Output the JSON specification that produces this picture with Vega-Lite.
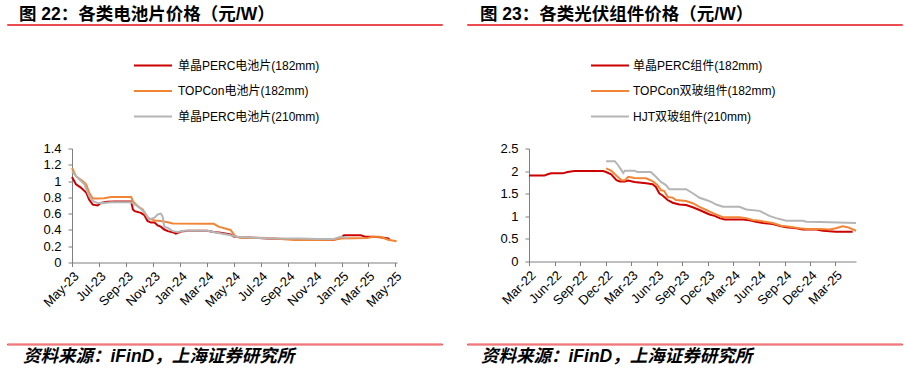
{
  "$schema": "https://vega.github.io/schema/vega-lite/v6.json",
  "padding": {"left": 6, "top": 5, "right": 0, "bottom": 0},
  "background": "white",
  "config": {
    "view": {"stroke": null},
    "font": "Liberation Sans, Noto Sans CJK SC",
    "axis": {"grid": false, "domainColor": "#7f7f7f", "tickColor": "#7f7f7f", "labelColor": "#000000", "labelFontSize": 13, "labelFont": "Liberation Sans, Noto Sans CJK SC", "tickSize": 4, "labelPadding": 3, "title": null, "labelOverlap": false},
    "text": {"font": "Liberation Sans, Noto Sans CJK SC", "fontSize": 12, "color": "#000000"},
    "title": {"font": "Liberation Sans, Noto Sans CJK SC", "color": "#000000"}
  },
  "resolve": {"scale": {"color": "independent", "x": "independent", "y": "independent"}},
  "datasets": {
    "left": [
      {"date": "2023/05/01", "value": 1.05, "series": "单晶PERC电池片(182mm)"},
      {"date": "2023/05/10", "value": 0.96, "series": "单晶PERC电池片(182mm)"},
      {"date": "2023/05/21", "value": 0.92, "series": "单晶PERC电池片(182mm)"},
      {"date": "2023/06/02", "value": 0.86, "series": "单晶PERC电池片(182mm)"},
      {"date": "2023/06/09", "value": 0.77, "series": "单晶PERC电池片(182mm)"},
      {"date": "2023/06/17", "value": 0.71, "series": "单晶PERC电池片(182mm)"},
      {"date": "2023/06/28", "value": 0.70, "series": "单晶PERC电池片(182mm)"},
      {"date": "2023/07/05", "value": 0.73, "series": "单晶PERC电池片(182mm)"},
      {"date": "2023/07/20", "value": 0.745, "series": "单晶PERC电池片(182mm)"},
      {"date": "2023/08/05", "value": 0.75, "series": "单晶PERC电池片(182mm)"},
      {"date": "2023/08/28", "value": 0.75, "series": "单晶PERC电池片(182mm)"},
      {"date": "2023/09/12", "value": 0.75, "series": "单晶PERC电池片(182mm)"},
      {"date": "2023/09/16", "value": 0.65, "series": "单晶PERC电池片(182mm)"},
      {"date": "2023/09/20", "value": 0.63, "series": "单晶PERC电池片(182mm)"},
      {"date": "2023/10/04", "value": 0.61, "series": "单晶PERC电池片(182mm)"},
      {"date": "2023/10/12", "value": 0.58, "series": "单晶PERC电池片(182mm)"},
      {"date": "2023/10/19", "value": 0.51, "series": "单晶PERC电池片(182mm)"},
      {"date": "2023/10/27", "value": 0.49, "series": "单晶PERC电池片(182mm)"},
      {"date": "2023/11/04", "value": 0.49, "series": "单晶PERC电池片(182mm)"},
      {"date": "2023/11/11", "value": 0.455, "series": "单晶PERC电池片(182mm)"},
      {"date": "2023/11/18", "value": 0.44, "series": "单晶PERC电池片(182mm)"},
      {"date": "2023/11/26", "value": 0.405, "series": "单晶PERC电池片(182mm)"},
      {"date": "2023/12/04", "value": 0.385, "series": "单晶PERC电池片(182mm)"},
      {"date": "2023/12/19", "value": 0.365, "series": "单晶PERC电池片(182mm)"},
      {"date": "2023/12/22", "value": 0.355, "series": "单晶PERC电池片(182mm)"},
      {"date": "2024/01/03", "value": 0.38, "series": "单晶PERC电池片(182mm)"},
      {"date": "2024/01/18", "value": 0.39, "series": "单晶PERC电池片(182mm)"},
      {"date": "2024/02/17", "value": 0.39, "series": "单晶PERC电池片(182mm)"},
      {"date": "2024/03/02", "value": 0.39, "series": "单晶PERC电池片(182mm)"},
      {"date": "2024/03/17", "value": 0.375, "series": "单晶PERC电池片(182mm)"},
      {"date": "2024/04/02", "value": 0.365, "series": "单晶PERC电池片(182mm)"},
      {"date": "2024/04/24", "value": 0.345, "series": "单晶PERC电池片(182mm)"},
      {"date": "2024/05/01", "value": 0.32, "series": "单晶PERC电池片(182mm)"},
      {"date": "2024/05/16", "value": 0.31, "series": "单晶PERC电池片(182mm)"},
      {"date": "2024/06/16", "value": 0.305, "series": "单晶PERC电池片(182mm)"},
      {"date": "2024/07/16", "value": 0.295, "series": "单晶PERC电池片(182mm)"},
      {"date": "2024/08/23", "value": 0.29, "series": "单晶PERC电池片(182mm)"},
      {"date": "2024/09/30", "value": 0.29, "series": "单晶PERC电池片(182mm)"},
      {"date": "2024/11/07", "value": 0.28, "series": "单晶PERC电池片(182mm)"},
      {"date": "2024/12/14", "value": 0.28, "series": "单晶PERC电池片(182mm)"},
      {"date": "2024/12/29", "value": 0.30, "series": "单晶PERC电池片(182mm)"},
      {"date": "2025/01/06", "value": 0.335, "series": "单晶PERC电池片(182mm)"},
      {"date": "2025/02/13", "value": 0.335, "series": "单晶PERC电池片(182mm)"},
      {"date": "2025/02/24", "value": 0.315, "series": "单晶PERC电池片(182mm)"},
      {"date": "2025/03/13", "value": 0.315, "series": "单晶PERC电池片(182mm)"},
      {"date": "2025/03/28", "value": 0.31, "series": "单晶PERC电池片(182mm)"},
      {"date": "2025/04/16", "value": 0.295, "series": "单晶PERC电池片(182mm)"},
      {"date": "2025/04/20", "value": 0.275, "series": "单晶PERC电池片(182mm)"},

      {"date": "2023/05/01", "value": 1.16, "series": "TOPCon电池片(182mm)"},
      {"date": "2023/05/10", "value": 1.06, "series": "TOPCon电池片(182mm)"},
      {"date": "2023/05/25", "value": 1.00, "series": "TOPCon电池片(182mm)"},
      {"date": "2023/06/02", "value": 0.96, "series": "TOPCon电池片(182mm)"},
      {"date": "2023/06/09", "value": 0.855, "series": "TOPCon电池片(182mm)"},
      {"date": "2023/06/17", "value": 0.785, "series": "TOPCon电池片(182mm)"},
      {"date": "2023/06/28", "value": 0.785, "series": "TOPCon电池片(182mm)"},
      {"date": "2023/07/13", "value": 0.79, "series": "TOPCon电池片(182mm)"},
      {"date": "2023/07/28", "value": 0.805, "series": "TOPCon电池片(182mm)"},
      {"date": "2023/09/12", "value": 0.805, "series": "TOPCon电池片(182mm)"},
      {"date": "2023/09/16", "value": 0.75, "series": "TOPCon电池片(182mm)"},
      {"date": "2023/09/27", "value": 0.69, "series": "TOPCon电池片(182mm)"},
      {"date": "2023/10/08", "value": 0.65, "series": "TOPCon电池片(182mm)"},
      {"date": "2023/10/19", "value": 0.55, "series": "TOPCon电池片(182mm)"},
      {"date": "2023/11/04", "value": 0.515, "series": "TOPCon电池片(182mm)"},
      {"date": "2023/11/18", "value": 0.51, "series": "TOPCon电池片(182mm)"},
      {"date": "2023/12/04", "value": 0.495, "series": "TOPCon电池片(182mm)"},
      {"date": "2023/12/15", "value": 0.48, "series": "TOPCon电池片(182mm)"},
      {"date": "2024/03/02", "value": 0.475, "series": "TOPCon电池片(182mm)"},
      {"date": "2024/03/17", "value": 0.475, "series": "TOPCon电池片(182mm)"},
      {"date": "2024/03/28", "value": 0.44, "series": "TOPCon电池片(182mm)"},
      {"date": "2024/04/24", "value": 0.40, "series": "TOPCon电池片(182mm)"},
      {"date": "2024/05/05", "value": 0.32, "series": "TOPCon电池片(182mm)"},
      {"date": "2024/05/16", "value": 0.305, "series": "TOPCon电池片(182mm)"},
      {"date": "2024/07/16", "value": 0.30, "series": "TOPCon电池片(182mm)"},
      {"date": "2024/09/15", "value": 0.275, "series": "TOPCon电池片(182mm)"},
      {"date": "2024/10/30", "value": 0.275, "series": "TOPCon电池片(182mm)"},
      {"date": "2024/12/14", "value": 0.28, "series": "TOPCon电池片(182mm)"},
      {"date": "2024/12/29", "value": 0.295, "series": "TOPCon电池片(182mm)"},
      {"date": "2025/02/28", "value": 0.30, "series": "TOPCon电池片(182mm)"},
      {"date": "2025/03/13", "value": 0.315, "series": "TOPCon电池片(182mm)"},
      {"date": "2025/03/28", "value": 0.315, "series": "TOPCon电池片(182mm)"},
      {"date": "2025/04/16", "value": 0.28, "series": "TOPCon电池片(182mm)"},
      {"date": "2025/05/05", "value": 0.26, "series": "TOPCon电池片(182mm)"},

      {"date": "2023/05/01", "value": 1.12, "series": "单晶PERC电池片(210mm)"},
      {"date": "2023/05/14", "value": 1.04, "series": "单晶PERC电池片(210mm)"},
      {"date": "2023/05/29", "value": 0.96, "series": "单晶PERC电池片(210mm)"},
      {"date": "2023/06/09", "value": 0.815, "series": "单晶PERC电池片(210mm)"},
      {"date": "2023/06/17", "value": 0.755, "series": "单晶PERC电池片(210mm)"},
      {"date": "2023/06/28", "value": 0.73, "series": "单晶PERC电池片(210mm)"},
      {"date": "2023/07/13", "value": 0.73, "series": "单晶PERC电池片(210mm)"},
      {"date": "2023/07/28", "value": 0.74, "series": "单晶PERC电池片(210mm)"},
      {"date": "2023/09/12", "value": 0.74, "series": "单晶PERC电池片(210mm)"},
      {"date": "2023/09/27", "value": 0.69, "series": "单晶PERC电池片(210mm)"},
      {"date": "2023/10/12", "value": 0.62, "series": "单晶PERC电池片(210mm)"},
      {"date": "2023/10/23", "value": 0.53, "series": "单晶PERC电池片(210mm)"},
      {"date": "2023/11/04", "value": 0.55, "series": "单晶PERC电池片(210mm)"},
      {"date": "2023/11/11", "value": 0.59, "series": "单晶PERC电池片(210mm)"},
      {"date": "2023/11/18", "value": 0.60, "series": "单晶PERC电池片(210mm)"},
      {"date": "2023/11/22", "value": 0.57, "series": "单晶PERC电池片(210mm)"},
      {"date": "2023/11/26", "value": 0.44, "series": "单晶PERC电池片(210mm)"},
      {"date": "2023/12/04", "value": 0.425, "series": "单晶PERC电池片(210mm)"},
      {"date": "2023/12/15", "value": 0.385, "series": "单晶PERC电池片(210mm)"},
      {"date": "2023/12/26", "value": 0.375, "series": "单晶PERC电池片(210mm)"},
      {"date": "2024/01/10", "value": 0.39, "series": "单晶PERC电池片(210mm)"},
      {"date": "2024/03/02", "value": 0.39, "series": "单晶PERC电池片(210mm)"},
      {"date": "2024/03/25", "value": 0.365, "series": "单晶PERC电池片(210mm)"},
      {"date": "2024/04/24", "value": 0.335, "series": "单晶PERC电池片(210mm)"},
      {"date": "2024/05/09", "value": 0.315, "series": "单晶PERC电池片(210mm)"},
      {"date": "2024/06/16", "value": 0.305, "series": "单晶PERC电池片(210mm)"},
      {"date": "2024/07/31", "value": 0.295, "series": "单晶PERC电池片(210mm)"},
      {"date": "2024/09/30", "value": 0.295, "series": "单晶PERC电池片(210mm)"},
      {"date": "2024/11/07", "value": 0.29, "series": "单晶PERC电池片(210mm)"},
      {"date": "2024/12/14", "value": 0.29, "series": "单晶PERC电池片(210mm)"},
      {"date": "2024/12/29", "value": 0.315, "series": "单晶PERC电池片(210mm)"},
      {"date": "2025/01/14", "value": 0.30, "series": "单晶PERC电池片(210mm)"}
    ],
    "right": [
      {"date": "2022/03/01", "value": 1.90, "series": "单晶PERC组件(182mm)"},
      {"date": "2022/04/25", "value": 1.90, "series": "单晶PERC组件(182mm)"},
      {"date": "2022/05/07", "value": 1.93, "series": "单晶PERC组件(182mm)"},
      {"date": "2022/05/19", "value": 1.95, "series": "单晶PERC组件(182mm)"},
      {"date": "2022/06/30", "value": 1.95, "series": "单晶PERC组件(182mm)"},
      {"date": "2022/07/17", "value": 1.98, "series": "单晶PERC组件(182mm)"},
      {"date": "2022/08/11", "value": 2.00, "series": "单晶PERC组件(182mm)"},
      {"date": "2022/11/21", "value": 2.00, "series": "单晶PERC组件(182mm)"},
      {"date": "2022/12/02", "value": 1.98, "series": "单晶PERC组件(182mm)"},
      {"date": "2022/12/20", "value": 1.93, "series": "单晶PERC组件(182mm)"},
      {"date": "2023/01/08", "value": 1.80, "series": "单晶PERC组件(182mm)"},
      {"date": "2023/01/20", "value": 1.77, "series": "单晶PERC组件(182mm)"},
      {"date": "2023/02/07", "value": 1.77, "series": "单晶PERC组件(182mm)"},
      {"date": "2023/02/19", "value": 1.79, "series": "单晶PERC组件(182mm)"},
      {"date": "2023/03/13", "value": 1.76, "series": "单晶PERC组件(182mm)"},
      {"date": "2023/04/24", "value": 1.73, "series": "单晶PERC组件(182mm)"},
      {"date": "2023/05/17", "value": 1.71, "series": "单晶PERC组件(182mm)"},
      {"date": "2023/05/29", "value": 1.65, "series": "单晶PERC组件(182mm)"},
      {"date": "2023/06/10", "value": 1.51, "series": "单晶PERC组件(182mm)"},
      {"date": "2023/06/22", "value": 1.46, "series": "单晶PERC组件(182mm)"},
      {"date": "2023/07/10", "value": 1.36, "series": "单晶PERC组件(182mm)"},
      {"date": "2023/07/28", "value": 1.30, "series": "单晶PERC组件(182mm)"},
      {"date": "2023/08/21", "value": 1.26, "series": "单晶PERC组件(182mm)"},
      {"date": "2023/09/14", "value": 1.25, "series": "单晶PERC组件(182mm)"},
      {"date": "2023/10/08", "value": 1.20, "series": "单晶PERC组件(182mm)"},
      {"date": "2023/11/01", "value": 1.14, "series": "单晶PERC组件(182mm)"},
      {"date": "2023/11/19", "value": 1.09, "series": "单晶PERC组件(182mm)"},
      {"date": "2023/12/07", "value": 1.04, "series": "单晶PERC组件(182mm)"},
      {"date": "2023/12/25", "value": 1.01, "series": "单晶PERC组件(182mm)"},
      {"date": "2024/01/12", "value": 0.96, "series": "单晶PERC组件(182mm)"},
      {"date": "2024/01/30", "value": 0.93, "series": "单晶PERC组件(182mm)"},
      {"date": "2024/04/04", "value": 0.93, "series": "单晶PERC组件(182mm)"},
      {"date": "2024/04/28", "value": 0.91, "series": "单晶PERC组件(182mm)"},
      {"date": "2024/05/21", "value": 0.88, "series": "单晶PERC组件(182mm)"},
      {"date": "2024/06/15", "value": 0.85, "series": "单晶PERC组件(182mm)"},
      {"date": "2024/07/20", "value": 0.83, "series": "单晶PERC组件(182mm)"},
      {"date": "2024/08/19", "value": 0.78, "series": "单晶PERC组件(182mm)"},
      {"date": "2024/09/07", "value": 0.76, "series": "单晶PERC组件(182mm)"},
      {"date": "2024/10/12", "value": 0.735, "series": "单晶PERC组件(182mm)"},
      {"date": "2024/11/05", "value": 0.71, "series": "单晶PERC组件(182mm)"},
      {"date": "2024/12/23", "value": 0.71, "series": "单晶PERC组件(182mm)"},
      {"date": "2025/01/16", "value": 0.68, "series": "单晶PERC组件(182mm)"},
      {"date": "2025/03/03", "value": 0.66, "series": "单晶PERC组件(182mm)"},
      {"date": "2025/05/02", "value": 0.66, "series": "单晶PERC组件(182mm)"},

      {"date": "2022/12/02", "value": 2.06, "series": "TOPCon双玻组件(182mm)"},
      {"date": "2022/12/20", "value": 2.01, "series": "TOPCon双玻组件(182mm)"},
      {"date": "2023/01/08", "value": 1.90, "series": "TOPCon双玻组件(182mm)"},
      {"date": "2023/01/26", "value": 1.80, "series": "TOPCon双玻组件(182mm)"},
      {"date": "2023/02/07", "value": 1.80, "series": "TOPCon双玻组件(182mm)"},
      {"date": "2023/02/19", "value": 1.875, "series": "TOPCon双玻组件(182mm)"},
      {"date": "2023/03/13", "value": 1.85, "series": "TOPCon双玻组件(182mm)"},
      {"date": "2023/04/24", "value": 1.84, "series": "TOPCon双玻组件(182mm)"},
      {"date": "2023/05/17", "value": 1.78, "series": "TOPCon双玻组件(182mm)"},
      {"date": "2023/06/04", "value": 1.69, "series": "TOPCon双玻组件(182mm)"},
      {"date": "2023/06/16", "value": 1.58, "series": "TOPCon双玻组件(182mm)"},
      {"date": "2023/06/28", "value": 1.56, "series": "TOPCon双玻组件(182mm)"},
      {"date": "2023/07/10", "value": 1.43, "series": "TOPCon双玻组件(182mm)"},
      {"date": "2023/07/28", "value": 1.41, "series": "TOPCon双玻组件(182mm)"},
      {"date": "2023/08/09", "value": 1.36, "series": "TOPCon双玻组件(182mm)"},
      {"date": "2023/09/14", "value": 1.34, "series": "TOPCon双玻组件(182mm)"},
      {"date": "2023/10/08", "value": 1.29, "series": "TOPCon双玻组件(182mm)"},
      {"date": "2023/11/01", "value": 1.21, "series": "TOPCon双玻组件(182mm)"},
      {"date": "2023/11/25", "value": 1.14, "series": "TOPCon双玻组件(182mm)"},
      {"date": "2023/12/19", "value": 1.07, "series": "TOPCon双玻组件(182mm)"},
      {"date": "2024/01/12", "value": 1.01, "series": "TOPCon双玻组件(182mm)"},
      {"date": "2024/01/24", "value": 0.98, "series": "TOPCon双玻组件(182mm)"},
      {"date": "2024/03/23", "value": 0.98, "series": "TOPCon双玻组件(182mm)"},
      {"date": "2024/04/16", "value": 0.96, "series": "TOPCon双玻组件(182mm)"},
      {"date": "2024/05/09", "value": 0.92, "series": "TOPCon双玻组件(182mm)"},
      {"date": "2024/06/03", "value": 0.90, "series": "TOPCon双玻组件(182mm)"},
      {"date": "2024/07/20", "value": 0.85, "series": "TOPCon双玻组件(182mm)"},
      {"date": "2024/08/19", "value": 0.79, "series": "TOPCon双玻组件(182mm)"},
      {"date": "2024/09/19", "value": 0.77, "series": "TOPCon双玻组件(182mm)"},
      {"date": "2024/10/24", "value": 0.735, "series": "TOPCon双玻组件(182mm)"},
      {"date": "2024/11/17", "value": 0.72, "series": "TOPCon双玻组件(182mm)"},
      {"date": "2025/01/04", "value": 0.72, "series": "TOPCon双玻组件(182mm)"},
      {"date": "2025/02/09", "value": 0.71, "series": "TOPCon双玻组件(182mm)"},
      {"date": "2025/03/03", "value": 0.735, "series": "TOPCon双玻组件(182mm)"},
      {"date": "2025/03/27", "value": 0.78, "series": "TOPCon双玻组件(182mm)"},
      {"date": "2025/04/14", "value": 0.76, "series": "TOPCon双玻组件(182mm)"},
      {"date": "2025/05/14", "value": 0.68, "series": "TOPCon双玻组件(182mm)"},

      {"date": "2022/12/02", "value": 2.22, "series": "HJT双玻组件(210mm)"},
      {"date": "2023/01/02", "value": 2.22, "series": "HJT双玻组件(210mm)"},
      {"date": "2023/01/14", "value": 2.13, "series": "HJT双玻组件(210mm)"},
      {"date": "2023/02/01", "value": 1.96, "series": "HJT双玻组件(210mm)"},
      {"date": "2023/02/07", "value": 2.01, "series": "HJT双玻组件(210mm)"},
      {"date": "2023/03/13", "value": 2.01, "series": "HJT双玻组件(210mm)"},
      {"date": "2023/03/24", "value": 1.98, "series": "HJT双玻组件(210mm)"},
      {"date": "2023/05/11", "value": 1.98, "series": "HJT双玻组件(210mm)"},
      {"date": "2023/05/29", "value": 1.875, "series": "HJT双玻组件(210mm)"},
      {"date": "2023/06/16", "value": 1.76, "series": "HJT双玻组件(210mm)"},
      {"date": "2023/07/04", "value": 1.69, "series": "HJT双玻组件(210mm)"},
      {"date": "2023/07/16", "value": 1.60, "series": "HJT双玻组件(210mm)"},
      {"date": "2023/09/14", "value": 1.60, "series": "HJT双玻组件(210mm)"},
      {"date": "2023/10/08", "value": 1.51, "series": "HJT双玻组件(210mm)"},
      {"date": "2023/11/01", "value": 1.41, "series": "HJT双玻组件(210mm)"},
      {"date": "2023/11/25", "value": 1.36, "series": "HJT双玻组件(210mm)"},
      {"date": "2023/12/13", "value": 1.32, "series": "HJT双玻组件(210mm)"},
      {"date": "2023/12/31", "value": 1.26, "series": "HJT双玻组件(210mm)"},
      {"date": "2024/01/24", "value": 1.21, "series": "HJT双玻组件(210mm)"},
      {"date": "2024/03/23", "value": 1.21, "series": "HJT双玻组件(210mm)"},
      {"date": "2024/04/16", "value": 1.15, "series": "HJT双玻组件(210mm)"},
      {"date": "2024/06/03", "value": 1.12, "series": "HJT双玻组件(210mm)"},
      {"date": "2024/07/08", "value": 1.01, "series": "HJT双玻组件(210mm)"},
      {"date": "2024/08/01", "value": 0.96, "series": "HJT双玻组件(210mm)"},
      {"date": "2024/09/07", "value": 0.90, "series": "HJT双玻组件(210mm)"},
      {"date": "2024/11/05", "value": 0.90, "series": "HJT双玻组件(210mm)"},
      {"date": "2024/11/17", "value": 0.88, "series": "HJT双玻组件(210mm)"},
      {"date": "2025/01/04", "value": 0.875, "series": "HJT双玻组件(210mm)"},
      {"date": "2025/02/09", "value": 0.87, "series": "HJT双玻组件(210mm)"},
      {"date": "2025/05/14", "value": 0.85, "series": "HJT双玻组件(210mm)"}
    ],
    "legendLeft": [
      {"series": "单晶PERC电池片(182mm)"},
      {"series": "TOPCon电池片(182mm)"},
      {"series": "单晶PERC电池片(210mm)"}
    ],
    "legendRight": [
      {"series": "单晶PERC组件(182mm)"},
      {"series": "TOPCon双玻组件(182mm)"},
      {"series": "HJT双玻组件(210mm)"}
    ]
  },
  "spacing": 19.5,
  "vconcat": [
    {
      "spacing": 33.5,
      "vconcat": [
        {
          "spacing": 23,
          "hconcat": [
            {
              "width": 435, "height": 1,
              "view": {"stroke": "#EC4B50", "strokeWidth": 1},
              "title": {"text": "图 22：各类电池片价格（元/W）", "anchor": "start", "dx": 12, "offset": 1, "fontSize": 17.5, "fontWeight": "bold"},
              "data": {"values": []},
              "mark": {"type": "rule"},
              "encoding": {}
            },
            {
              "width": 435, "height": 1,
              "view": {"stroke": "#EC4B50", "strokeWidth": 1},
              "title": {"text": "图 23：各类光伏组件价格（元/W）", "anchor": "start", "dx": 13, "offset": 1, "fontSize": 17.5, "fontWeight": "bold"},
              "data": {"values": []},
              "mark": {"type": "rule"},
              "encoding": {}
            }
          ]
        },
        {
          "spacing": 0,
          "hconcat": [
            {
              "width": 126, "height": 1,
              "data": {"values": []},
              "mark": {"type": "rule"},
              "encoding": {}
            },
            {
              "width": 38, "height": 51,
              "data": {"name": "legendLeft"},
              "encoding": {
                "y": {"field": "series", "type": "nominal", "scale": {"type": "point", "padding": 0, "domain": ["单晶PERC电池片(182mm)", "TOPCon电池片(182mm)", "单晶PERC电池片(210mm)"]}, "axis": null}
              },
              "layer": [
                {
                  "mark": {"type": "rule", "strokeWidth": 2},
                  "encoding": {
                    "x": {"datum": 0, "type": "quantitative", "scale": {"domain": [0, 1]}, "axis": null},
                    "x2": {"datum": 1},
                    "color": {"field": "series", "type": "nominal", "scale": {"domain": ["单晶PERC电池片(182mm)", "TOPCon电池片(182mm)", "单晶PERC电池片(210mm)"], "range": ["#CC0000", "#F28535", "#B5B5B5"]}, "legend": null}
                  }
                },
                {
                  "mark": {"type": "text", "align": "left", "baseline": "middle", "dx": 6},
                  "encoding": {
                    "x": {"datum": 1, "type": "quantitative"},
                    "text": {"field": "series"}
                  }
                }
              ]
            },
            {
              "width": 270, "height": 1,
              "data": {"values": []},
              "mark": {"type": "rule"},
              "encoding": {}
            },
            {
              "width": 38, "height": 51,
              "data": {"name": "legendRight"},
              "encoding": {
                "y": {"field": "series", "type": "nominal", "scale": {"type": "point", "padding": 0, "domain": ["单晶PERC组件(182mm)", "TOPCon双玻组件(182mm)", "HJT双玻组件(210mm)"]}, "axis": null}
              },
              "layer": [
                {
                  "mark": {"type": "rule", "strokeWidth": 2},
                  "encoding": {
                    "x": {"datum": 0, "type": "quantitative", "scale": {"domain": [0, 1]}, "axis": null},
                    "x2": {"datum": 1},
                    "color": {"field": "series", "type": "nominal", "scale": {"domain": ["单晶PERC组件(182mm)", "TOPCon双玻组件(182mm)", "HJT双玻组件(210mm)"], "range": ["#CC0000", "#F28535", "#B5B5B5"]}, "legend": null}
                  }
                },
                {
                  "mark": {"type": "text", "align": "left", "baseline": "middle", "dx": 4},
                  "encoding": {
                    "x": {"datum": 1, "type": "quantitative"},
                    "text": {"field": "series"}
                  }
                }
              ]
            }
          ]
        }
      ]
    },
    {
      "spacing": 33,
      "vconcat": [
        {
          "spacing": 31,
          "hconcat": [
            {
              "width": 1, "height": 1,
              "data": {"values": []},
              "mark": {"type": "rule"},
              "encoding": {}
            },
            {
              "width": 325, "height": 114,
              "data": {"name": "left"},
              "mark": {"type": "line", "strokeWidth": 2},
              "encoding": {
                "x": {"field": "date", "type": "temporal",
                  "scale": {"domain": [{"year": 2023, "month": 5, "date": 1}, {"year": 2025, "month": 5, "date": 6}]},
                  "axis": {"format": "%b-%y", "labelAngle": -45, "tickCount": {"interval": "month", "step": 2}}},
                "y": {"field": "value", "type": "quantitative",
                  "scale": {"domain": [0, 1.4], "nice": false},
                  "axis": {"values": [0, 0.2, 0.4, 0.6, 0.8, 1, 1.2, 1.4], "format": ".2~f", "minExtent": 33, "maxExtent": 33, "labelPadding": 7}},
                "color": {"field": "series", "type": "nominal",
                  "scale": {"domain": ["单晶PERC电池片(182mm)", "TOPCon电池片(182mm)", "单晶PERC电池片(210mm)"], "range": ["#CC0000", "#F28535", "#B5B5B5"]},
                  "legend": null}
              }
            },
            {
              "width": 327, "height": 113,
              "data": {"name": "right"},
              "mark": {"type": "line", "strokeWidth": 2},
              "encoding": {
                "x": {"field": "date", "type": "temporal",
                  "scale": {"domain": [{"year": 2022, "month": 3, "date": 1}, {"year": 2025, "month": 5, "date": 14}]},
                  "axis": {"format": "%b-%y", "labelAngle": -45,
                    "values": [
                      {"year": 2022, "month": 3, "date": 1}, {"year": 2022, "month": 6, "date": 1}, {"year": 2022, "month": 9, "date": 1}, {"year": 2022, "month": 12, "date": 1},
                      {"year": 2023, "month": 3, "date": 1}, {"year": 2023, "month": 6, "date": 1}, {"year": 2023, "month": 9, "date": 1}, {"year": 2023, "month": 12, "date": 1},
                      {"year": 2024, "month": 3, "date": 1}, {"year": 2024, "month": 6, "date": 1}, {"year": 2024, "month": 9, "date": 1}, {"year": 2024, "month": 12, "date": 1},
                      {"year": 2025, "month": 3, "date": 1}]}},
                "y": {"field": "value", "type": "quantitative",
                  "scale": {"domain": [0, 2.5], "nice": false},
                  "axis": {"values": [0, 0.5, 1, 1.5, 2, 2.5], "format": ".2~f", "minExtent": 94, "maxExtent": 94, "labelPadding": 7}},
                "color": {"field": "series", "type": "nominal",
                  "scale": {"domain": ["单晶PERC组件(182mm)", "TOPCon双玻组件(182mm)", "HJT双玻组件(210mm)"], "range": ["#CC0000", "#F28535", "#B5B5B5"]},
                  "legend": null}
              }
            }
          ]
        },
        {
          "spacing": 23,
          "hconcat": [
            {
              "width": 435, "height": 1,
              "view": {"stroke": "#EC4B50", "strokeWidth": 1},
              "title": {"text": "资料来源：iFinD，上海证券研究所", "orient": "bottom", "anchor": "start", "dx": 16, "offset": 3, "fontSize": 17.5, "fontStyle": "italic", "fontWeight": "bold"},
              "data": {"values": []},
              "mark": {"type": "rule"},
              "encoding": {}
            },
            {
              "width": 435, "height": 1,
              "view": {"stroke": "#EC4B50", "strokeWidth": 1},
              "title": {"text": "资料来源：iFinD，上海证券研究所", "orient": "bottom", "anchor": "start", "dx": 14, "offset": 3, "fontSize": 17.5, "fontStyle": "italic", "fontWeight": "bold"},
              "data": {"values": []},
              "mark": {"type": "rule"},
              "encoding": {}
            }
          ]
        }
      ]
    }
  ]
}
